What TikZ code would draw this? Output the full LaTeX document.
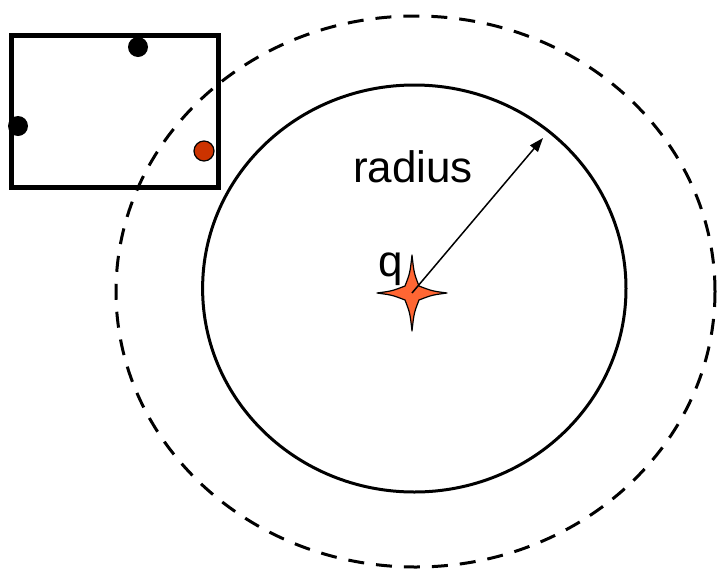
\documentclass[tikz,border=0pt]{standalone}
\usepackage{fontspec}
\setmainfont{Liberation Sans}
\usetikzlibrary{arrows.meta,positioning}
\definecolor{chargeorange}{HTML}{FF6633}
\definecolor{testred}{HTML}{CC3300}
\newcommand{\labelfont}{\fontsize{44}{50}\selectfont}

\begin{document}
\begin{tikzpicture}[x=1pt,y=-1pt,
  dot/.style={circle, fill=black, inner sep=0pt, minimum size=20pt},
  reddot/.style={dot, fill=testred, draw=black, line width=1.2pt},
  label/.style={anchor=base, inner sep=0pt, font=\labelfont}]
\useasboundingbox (0,0) rectangle (718,574);

% the box with its charges
\draw[line width=5pt] (11,35) rectangle (218,187);
\node[dot] (top) at (138,47) {};
\node[dot] (left) at (18,126) {};
\node[reddot] (right) at (204,151) {};

% surfaces round q
\draw[line width=3pt] (414.3,288.5) ellipse [x radius=211.7pt, y radius=203.5pt];
\draw[line width=3pt, dash pattern=on 16pt off 12pt] (415.5,291.5) ellipse [x radius=299.5pt, y radius=275.5pt];

% the charge
\coordinate (q) at (412,293);
\filldraw[fill=chargeorange, line width=1.2pt, line join=round, shift={(q)}]
  (35,0) .. controls (20,2) .. (7,7) .. controls (2,20) .. (0,38)
  .. controls (-2,20) .. (-7,7) .. controls (-20,2) .. (-35,0)
  .. controls (-20,-2) .. (-7,-7) .. controls (-2,-20) .. (0,-38)
  .. controls (2,-20) .. (7,-7) .. controls (20,-2) .. cycle;

\coordinate (rim) at (543,138);
\draw[line width=1.5pt, -{Triangle[length=14pt, width=10pt]}] (q) -- (rim);

\node[label] (qlabel) at (391,276) {q};
\node[label] (rlabel) at (413,182) {radius};
\end{tikzpicture}
\end{document}
